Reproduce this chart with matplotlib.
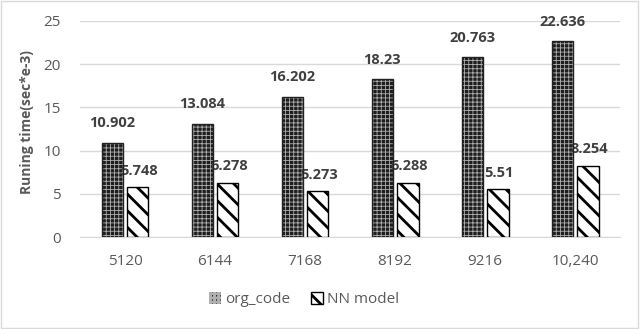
import numpy as np
import matplotlib.pyplot as plt
from matplotlib.patches import Rectangle

plt.rcParams['font.family'] = ['Open Sans', 'DejaVu Sans']
plt.rcParams['hatch.linewidth'] = 2.0

categories = ['5120', '6144', '7168', '8192', '9216', '10,240']
org_code = [10.902, 13.084, 16.202, 18.23, 20.763, 22.636]
nn_model = [5.748, 6.278, 5.273, 6.288, 5.51, 8.254]
org_labels = ['10.902', '13.084', '16.202', '18.23', '20.763', '22.636']
nn_labels = ['5.748', '6.278', '5.273', '6.288', '5.51', '8.254']

fig = plt.figure(figsize=(6.4, 3.29), dpi=100)
ax = fig.add_axes([0.125, 0.2796, 0.844, 0.657])

x = np.arange(len(categories))
w = 0.235
b1 = ax.bar(x - 0.025 - w / 2, org_code, w, color='#1e1e1e', edgecolor='#b0b0b0',
            hatch='++++', linewidth=0, label='org_code', zorder=3)
b2 = ax.bar(x + 0.025 + w / 2, nn_model, w, color='white', edgecolor='black',
            hatch='\\\\', linewidth=1, label='NN model', zorder=3)
# thinner hatch for the dotted bars
for r in b1:
    try:
        r.set_hatch_linewidth(0.6)
    except AttributeError:
        pass
    ax.add_patch(Rectangle((r.get_x(), 0), r.get_width(), r.get_height(),
                           fill=False, edgecolor='#222222', lw=1, zorder=4))

lab_col = '#404040'
for xi, v, s in zip(x, org_code, org_labels):
    ax.annotate(s, (xi - 0.025 - w / 2, v), xytext=(0, 9), textcoords='offset points',
                ha='center', va='bottom', fontsize=10.5, fontweight='bold', color=lab_col)
for xi, v, s in zip(x, nn_model, nn_labels):
    ax.annotate(s, (xi + 0.025 + w / 2, v), xytext=(1, 7), textcoords='offset points',
                ha='center', va='bottom', fontsize=10.5, fontweight='bold', color=lab_col)

ax.set_xlim(-0.5, len(categories) - 0.5)
ax.set_ylim(0, 25)
ax.set_yticks([0, 5, 10, 15, 20, 25])
ax.set_xticks(x)
ax.set_xticklabels(categories)
ax.tick_params(length=0, labelsize=11, colors='#595959', pad=12)
ax.tick_params(axis='y', pad=14)
ax.grid(axis='y', color='#d9d9d9', lw=1, zorder=0)
for s in ['top', 'right', 'left']:
    ax.spines[s].set_visible(False)
ax.spines['bottom'].set_color('#d9d9d9')
ax.set_ylabel('Runing time(sec*e-3)', fontsize=10, fontweight='bold', color='#595959', labelpad=9)
ax.yaxis.set_label_coords(-0.085, 0.53)

ax.legend(loc='upper center', bbox_to_anchor=(0.415, -0.19), ncol=2, frameon=False,
          fontsize=11, labelcolor='#595959', handlelength=0.8, handleheight=0.8,
          handletextpad=0.3, columnspacing=1.3)

fig.patches.append(Rectangle((0.002, 0.003), 0.995, 0.993, transform=fig.transFigure,
                             fill=False, edgecolor='#d9d9d9', lw=1))
fig.savefig('out.png', dpi=100)
